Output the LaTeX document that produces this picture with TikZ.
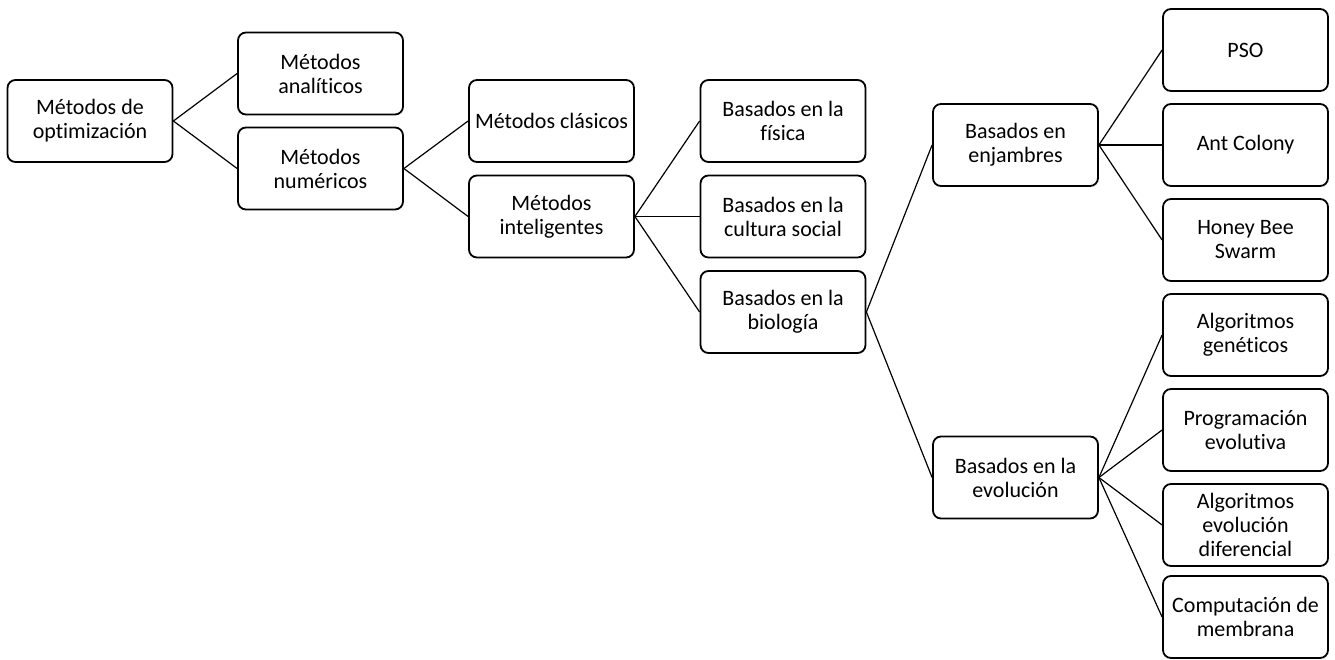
\documentclass[tikz,border=0pt]{standalone}
\usepackage{fontspec}
\setmainfont[Ligatures=NoCommon]{Carlito}
\begin{document}
\begin{tikzpicture}[x=1pt, y=-1pt,
		caja/.style={draw, rounded corners=8pt, line width=1.8pt, minimum width=165pt, minimum height=82pt, align=center, inner sep=2pt, font=\fontsize{22}{24}\selectfont},
		rama/.style={line width=1.2pt}]
			\useasboundingbox (0,0) rectangle (1335,659);
			\node[caja] (opt) at (90,121) {Métodos de\\optimización};
			\node[caja] (ana) at (320.5,73.5) {Métodos\\analíticos};
			\node[caja] (num) at (320.5,168.5) {Métodos\\numéricos};
			\node[caja] (cla) at (551.5,121) {Métodos clásicos};
			\node[caja] (intel) at (551.5,216.5) {Métodos\\inteligentes};
			\node[caja] (fis) at (783,121) {Basados en la\\física};
			\node[caja] (cult) at (783,216.5) {Basados en la\\cultura social};
			\node[caja] (bio) at (783,312) {Basados en la\\biología};
			\node[caja] (enj) at (1015.5,145) {Basados en\\enjambres};
			\node[caja] (evo) at (1015.5,477.5) {Basados en la\\evolución};
			\node[caja] (pso) at (1245.5,50) {PSO};
			\node[caja] (ant) at (1245.5,145) {Ant Colony};
			\node[caja] (hon) at (1245.5,240) {Honey Bee\\Swarm};
			\node[caja] (gen) at (1245.5,335) {Algoritmos\\genéticos};
			\node[caja] (prog) at (1245.5,430) {Programación\\evolutiva};
			\node[caja] (dif) at (1245.5,525) {Algoritmos\\evolución\\diferencial};
			\node[caja] (mem) at (1245.5,617) {Computación de\\membrana};
			\draw[rama] (opt.east) -- (ana.west);
			\draw[rama] (opt.east) -- (num.west);
			\draw[rama] (num.east) -- (cla.west);
			\draw[rama] (num.east) -- (intel.west);
			\draw[rama] (intel.east) -- (fis.west);
			\draw[rama] (intel.east) -- (cult.west);
			\draw[rama] (intel.east) -- (bio.west);
			\draw[rama] (bio.east) -- (enj.west);
			\draw[rama] (bio.east) -- (evo.west);
			\draw[rama] (enj.east) -- (pso.west);
			\draw[rama] (enj.east) -- (ant.west);
			\draw[rama] (enj.east) -- (hon.west);
			\draw[rama] (evo.east) -- (gen.west);
			\draw[rama] (evo.east) -- (prog.west);
			\draw[rama] (evo.east) -- (dif.west);
			\draw[rama] (evo.east) -- (mem.west);
		\end{tikzpicture}
\end{document}
